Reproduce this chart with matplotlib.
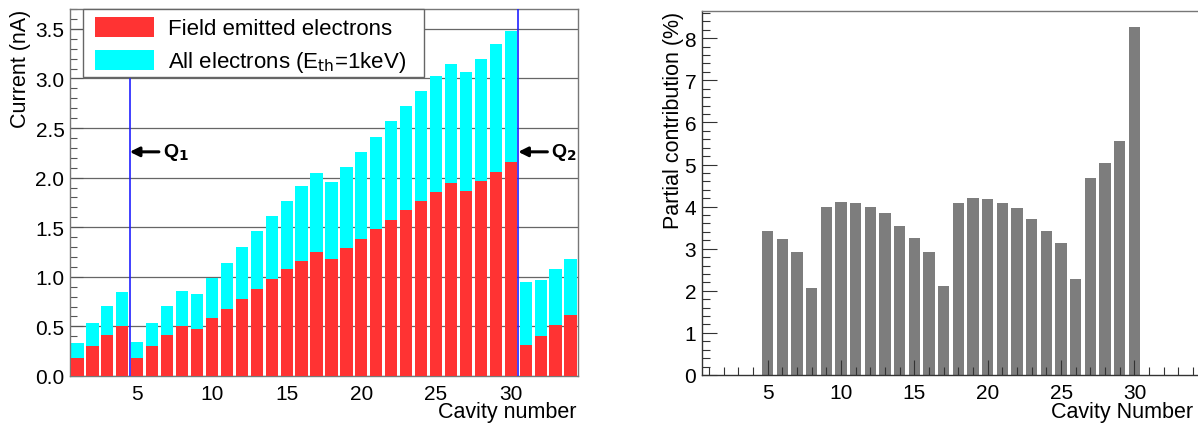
import matplotlib
matplotlib.use("Agg")
import matplotlib.pyplot as plt
from matplotlib.patches import Rectangle
from matplotlib.ticker import MultipleLocator, FormatStrFormatter
import numpy as np

plt.rcParams["font.family"] = ["Liberation Sans", "DejaVu Sans"]

# cavity index 1..34 for the current panel
cavities = np.arange(1, 35)
all_electrons = [0.33, 0.53, 0.71, 0.85, 0.34, 0.53, 0.71, 0.86, 0.83, 0.99,
                 1.14, 1.30, 1.46, 1.61, 1.76, 1.92, 2.05, 1.96, 2.11, 2.26,
                 2.41, 2.57, 2.72, 2.87, 3.02, 3.15, 3.06, 3.20, 3.35, 3.48,
                 0.95, 0.97, 1.08, 1.18]
field_emitted = [0.18, 0.30, 0.41, 0.505, 0.18, 0.30, 0.41, 0.505, 0.475, 0.585,
                 0.68, 0.78, 0.88, 0.98, 1.08, 1.16, 1.25, 1.18, 1.29, 1.38,
                 1.48, 1.57, 1.67, 1.76, 1.86, 1.95, 1.87, 1.97, 2.06, 2.16,
                 0.31, 0.40, 0.51, 0.61]

# partial contribution, cavities 5..30
contrib_cav = np.arange(5, 31)
contribution = [3.41, 3.24, 2.92, 2.07, 4.00, 4.12, 4.09, 4.00, 3.85, 3.55,
                3.26, 2.92, 2.11, 4.09, 4.20, 4.18, 4.09, 3.97, 3.71, 3.41,
                3.13, 2.27, 4.68, 5.04, 5.57, 8.26]

q_lines = [4.5, 30.5]
q_labels = ["Q$_\\mathbf{1}$", "Q$_\\mathbf{2}$"]

W, H = 1198, 427
fig = plt.figure(figsize=(W / 100, H / 100), dpi=100)

# ---- left panel: current ----
ax = fig.add_axes([70 / W, 50 / H, 508 / W, 367 / H])
ax.bar(cavities, all_electrons, width=0.82, color="#00ffff", zorder=2,
       label="All electrons (E$_{\\mathrm{th}}$=1keV)")
ax.bar(cavities, field_emitted, width=0.82, color="#ff3333", zorder=3,
       label="Field emitted electrons")
for xq in q_lines:
    ax.axvline(xq, color="#2020ff", lw=1.2, zorder=4)
for xq, lab in zip(q_lines, q_labels):
    ax.annotate("", xy=(xq, 2.26), xytext=(xq + 1.95, 2.26),
                arrowprops=dict(arrowstyle="-|>", color="black", lw=2.2,
                                mutation_scale=14, shrinkA=0, shrinkB=0),
                zorder=5)
    ax.text(xq + 2.2, 2.26, lab, fontsize=14, fontweight="bold",
            ha="left", va="center", zorder=5)

ax.set_xlim(0.5, 34.5)
ax.set_ylim(0, 3.7)
ax.yaxis.set_major_locator(MultipleLocator(0.5))
ax.yaxis.set_minor_locator(MultipleLocator(0.1))
ax.yaxis.set_major_formatter(FormatStrFormatter("%.1f"))
ax.xaxis.set_major_locator(MultipleLocator(5))
ax.xaxis.set_minor_locator(MultipleLocator(1))
ax.set_axisbelow(True)
ax.grid(axis="y", color="#666666", lw=0.9)
ax.tick_params(direction="in", labelsize=15, length=9, width=0.8, color="#555555")
ax.tick_params(which="minor", direction="in", length=5, width=0.8, color="#555555")
ax.tick_params(axis="x", pad=6)
ax.tick_params(axis="y", pad=4)
for s in ax.spines.values():
    s.set_color("#777777")
    s.set_linewidth(1.0)

# legend box drawn by hand so the entries can sit inside it like in ROOT
box = Rectangle((13.3 / 508, 1 - 68.3 / 367), 340.7 / 508, 68.3 / 367,
                transform=ax.transAxes, facecolor="white", edgecolor="#666666",
                lw=1.0, zorder=5, clip_on=False)
ax.add_patch(box)
handles, labels = ax.get_legend_handles_labels()
leg = ax.legend(handles[::-1], labels[::-1], loc="upper left",
                bbox_to_anchor=(18 / 508, 1 - 1 / 367), frameon=False,
                fontsize=16, borderaxespad=0, borderpad=0.3,
                handlelength=2.66, handleheight=1.04, labelspacing=0.45,
                handletextpad=0.63)
leg.set_zorder(6)

ax.text(0.9974, -0.1125, "Cavity number", transform=ax.transAxes, fontsize=15.5,
        ha="right", va="baseline")
ax.text(-0.0965, 1.0, "Current (nA)", transform=ax.transAxes, fontsize=15.5,
        rotation=90, ha="center", va="top")

# ---- right panel: partial contribution ----
ax2 = fig.add_axes([701.7 / W, 51 / H, 498.8 / W, 363.7 / H])
ax2.bar(contrib_cav, contribution, width=0.77, color="#7d7d7d", zorder=2)
ax2.set_xlim(0.5, 34.5)
ax2.set_ylim(0, 8.64)
ax2.xaxis.set_major_locator(MultipleLocator(5))
ax2.xaxis.set_minor_locator(MultipleLocator(1))
ax2.yaxis.set_major_locator(MultipleLocator(1))
ax2.yaxis.set_minor_locator(MultipleLocator(0.2))
ax2.set_axisbelow(False)
ax2.tick_params(direction="in", labelsize=15, length=11, width=0.8, color="#333333")
ax2.tick_params(which="minor", direction="in", length=6, width=0.8, color="#333333")
ax2.tick_params(axis="x", pad=6)
ax2.tick_params(axis="y", pad=4)
for name, s in ax2.spines.items():
    s.set_linewidth(1.0)
    s.set_color("#333333" if name in ("left", "bottom") else "#777777")
ax2.spines["right"].set_visible(False)

ax2.text(0.985, -0.1155, "Cavity Number", transform=ax2.transAxes, fontsize=15.5,
         ha="right", va="baseline")
ax2.text(-0.0575, 1.0, "Partial contribution (%)", transform=ax2.transAxes,
         fontsize=15.5, rotation=90, ha="center", va="top")

fig.savefig("out.png", dpi=100)
